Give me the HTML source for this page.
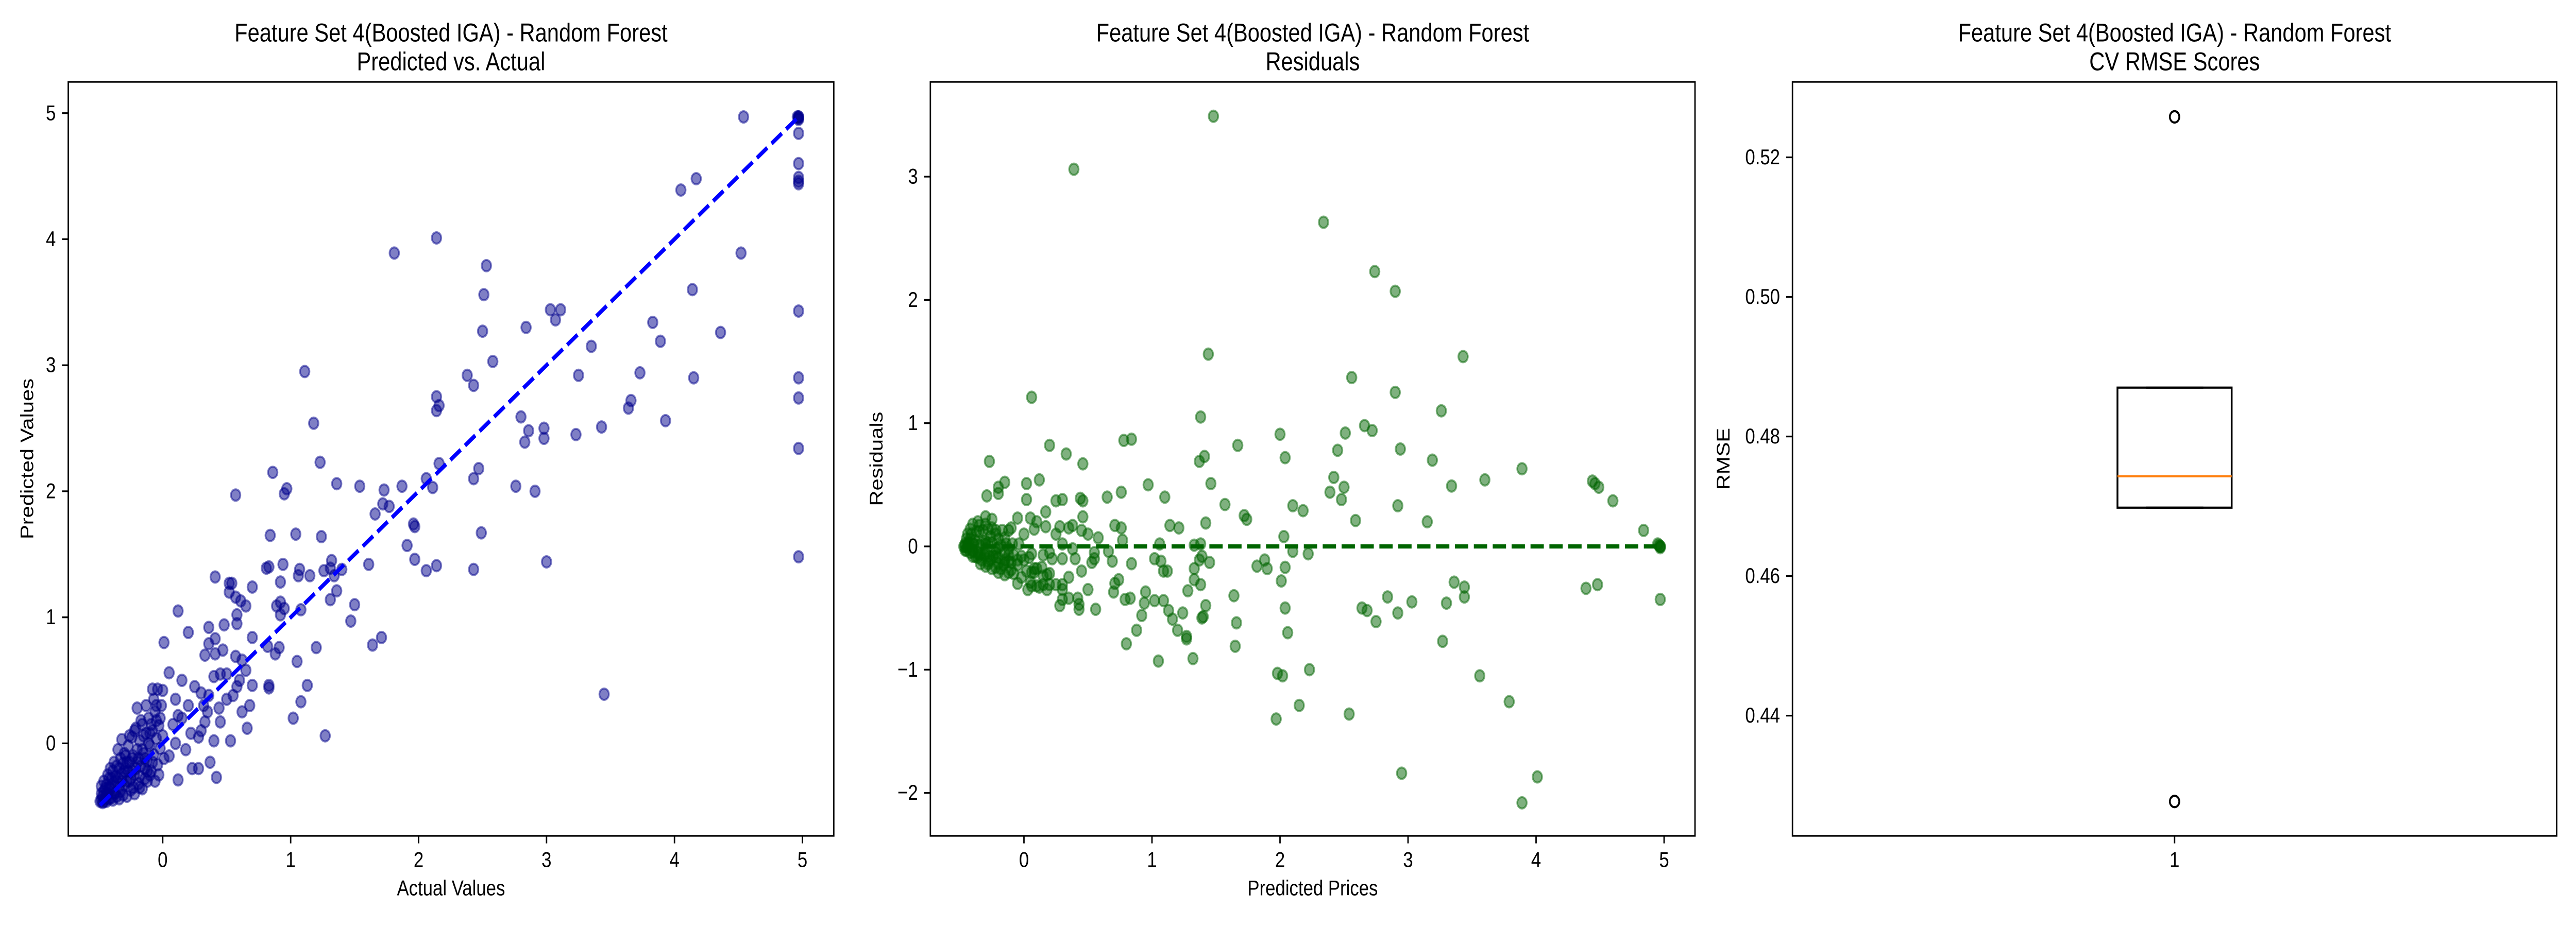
<!DOCTYPE html>
<html><head><meta charset="utf-8"><title>Feature Set 4 - Random Forest</title>
<style>html,body{margin:0;padding:0;background:#fff;overflow:hidden;width:100%;height:100%;}svg{display:block;width:100vw;height:100vh;font-family:"Liberation Sans","DejaVu Sans",sans-serif;}</style>
</head><body>
<svg id="fig" xmlns="http://www.w3.org/2000/svg" viewBox="0 0 6000 1800" preserveAspectRatio="none">
<rect width="6000" height="1800" fill="#fff"/>
</svg>
<script>
// ---- data: [actual, predicted]
const actualPredicted = [
[4.54,4.97],[4.97,4.97],[4.97,4.96],[4.96,4.97],[4.97,4.95],[4.97,4.97],[4.97,4.84],[4.97,4.60],[4.97,4.49],[4.97,4.46],[4.97,4.44],
[4.17,4.48],[4.05,4.39],[2.14,4.01],[1.81,3.89],[4.52,3.89],[2.53,3.79],[2.51,3.56],[4.14,3.60],[3.03,3.44],[3.11,3.44],[3.07,3.36],
[2.84,3.30],[4.97,3.43],[3.83,3.34],[2.50,3.27],[4.36,3.26],[3.89,3.19],[3.35,3.15],[2.58,3.03],[1.11,2.95],[2.38,2.92],[3.25,2.92],
[4.15,2.90],[4.97,2.90],[3.73,2.94],[2.43,2.84],[2.14,2.75],[2.16,2.68],[2.14,2.64],[4.97,2.74],[3.66,2.72],[3.64,2.66],[2.80,2.59],
[2.86,2.48],[2.98,2.50],[3.93,2.56],[3.43,2.51],[3.23,2.45],[2.83,2.39],[2.98,2.42],[1.18,2.54],[4.97,2.34],[1.23,2.23],[2.16,2.22],
[0.86,2.15],[2.47,2.18],[2.06,2.10],[2.43,2.10],[2.11,2.03],[1.36,2.06],[1.54,2.04],[1.87,2.04],[2.76,2.04],[2.91,2.00],[1.73,2.01],
[0.97,2.02],[0.57,1.97],[0.95,1.98],[1.72,1.90],[1.77,1.88],[1.66,1.82],[4.97,1.48],[1.96,1.74],[1.97,1.72],[1.04,1.66],[1.24,1.64],
[0.84,1.65],[2.49,1.67],[1.91,1.57],[1.97,1.46],[3.00,1.44],[2.06,1.37],[2.43,1.38],[2.14,1.41],[1.61,1.42],[1.32,1.45],[1.31,1.39],
[1.26,1.37],[0.83,1.40],[1.34,1.33],[1.40,1.38],[0.94,1.42],[1.07,1.38],[1.15,1.33],[0.41,1.32],[0.54,1.27],[0.70,1.24],[0.52,1.27],
[0.81,1.39],[0.92,1.28],[1.06,1.33],[1.36,1.21],[0.52,1.20],[1.50,1.10],[0.92,1.12],[0.89,1.09],[1.08,1.06],[0.61,1.13],[0.57,1.16],
[1.31,1.14],[1.47,0.97],[1.64,0.78],[1.20,0.76],[1.71,0.84],[1.05,0.65],[1.13,0.46],[1.08,0.33],[1.02,0.20],[1.27,0.06],[0.88,0.71],
[0.91,0.76],[0.92,1.02],[0.95,1.07],[0.82,0.77],[0.83,0.46],[0.83,0.44],[0.70,0.46],[0.58,1.02],[0.58,0.95],[0.12,1.05],[0.20,0.88],
[0.01,0.80],[0.36,0.92],[0.48,0.94],[0.41,0.83],[0.41,0.71],[0.36,0.79],[0.47,0.74],[0.57,0.69],[0.70,0.84],[0.62,0.66],[0.65,0.58],
[0.68,0.30],[0.53,0.02],[0.42,-0.27],[0.28,-0.20],[0.12,-0.29],[0.37,-0.15],[0.23,-0.20],[0.33,0.70],[0.33,0.17],[-0.08,0.43],[0.65,1.09],
[3.45,0.39],
[0.05,0.56],[0.10,0.35],[0.15,0.50],[0.20,0.30],[0.25,0.45],[0.30,0.40],[0.35,0.25],[0.40,0.53],[0.45,0.55],[0.50,0.35],[0.55,0.38],
[0.60,0.50],[0.62,0.25],[0.66,0.12],[0.45,0.17],[0.40,0.02],[0.50,0.55],[0.30,0.10],[0.22,0.08],[0.15,0.20],[0.08,0.15],[0.00,0.42],
[-0.05,0.30],[0.10,0.00],[0.05,-0.10],[0.18,-0.05],[0.28,0.05],[0.36,0.38],[0.44,0.28],[0.12,0.22],[0.32,0.30],[0.58,0.45],
[-0.48,-0.45],[-0.47,-0.42],[-0.46,-0.38],[-0.45,-0.44],[-0.44,-0.33],[-0.43,-0.40],[-0.42,-0.28],[-0.41,-0.36],[-0.40,-0.43],[-0.39,-0.22],
[-0.38,-0.31],[-0.37,-0.39],[-0.36,-0.18],[-0.35,-0.27],[-0.34,-0.35],[-0.33,-0.12],[-0.32,-0.24],[-0.31,-0.41],[-0.30,-0.08],[-0.29,-0.20],
[-0.28,-0.30],[-0.27,-0.02],[-0.26,-0.15],[-0.25,-0.37],[-0.24,0.05],[-0.23,-0.10],[-0.22,-0.25],[-0.21,0.12],[-0.20,-0.05],[-0.19,-0.32],
[-0.18,0.02],[-0.17,-0.18],[-0.16,0.15],[-0.15,-0.08],[-0.14,-0.28],[-0.13,0.08],[-0.12,-0.14],[-0.11,0.20],[-0.10,-0.02],[-0.09,-0.22],
[-0.08,0.10],[-0.07,-0.09],[-0.06,0.25],[-0.05,0.04],[-0.04,-0.17],[-0.03,0.14],[-0.02,-0.04],[-0.01,0.30],[0.00,0.06],[0.01,-0.12],
[-0.49,-0.46],[-0.48,-0.40],[-0.47,-0.47],[-0.46,-0.30],[-0.45,-0.36],[-0.44,-0.46],[-0.43,-0.25],[-0.42,-0.44],[-0.41,-0.20],[-0.40,-0.34],
[-0.39,-0.45],[-0.38,-0.15],[-0.37,-0.26],[-0.36,-0.42],[-0.35,-0.05],[-0.34,-0.20],[-0.33,-0.38],[-0.32,0.03],[-0.31,-0.16],[-0.30,-0.33],
[-0.29,-0.10],[-0.28,-0.42],[-0.27,-0.22],[-0.26,0.06],[-0.25,-0.28],[-0.24,-0.12],[-0.23,-0.35],[-0.22,0.10],[-0.21,-0.20],[-0.20,0.28],
[-0.19,-0.12],[-0.18,-0.26],[-0.17,0.18],[-0.16,-0.36],[-0.15,0.06],[-0.14,-0.20],[-0.13,0.30],[-0.12,-0.30],[-0.11,0.00],[-0.10,-0.25],
[-0.09,0.15],[-0.08,-0.15],[-0.07,0.35],[-0.06,-0.30],[-0.05,0.18],[-0.04,0.43],[-0.03,-0.25],[-0.02,0.20],[-0.48,-0.34],[-0.46,-0.46],
[-0.44,-0.40],[-0.42,-0.35],[-0.40,-0.28],[-0.38,-0.40],[-0.36,-0.30],[-0.34,-0.44],[-0.32,-0.30],[-0.30,-0.22],[-0.28,-0.15],[-0.26,-0.30],
[-0.24,-0.22],[-0.22,-0.40],[-0.20,-0.15],[-0.18,-0.35],[-0.16,-0.05],[-0.14,-0.12],[-0.12,-0.22],[-0.10,0.08]
];
const cvScores = [0.4277, 0.4698, 0.4743, 0.4870, 0.5258];
const ticks1 = [0,1,2,3,4,5];
const resTicks = [-2,-1,0,1,2,3];
const rmseTicks = [0.44,0.46,0.48,0.50,0.52];
const rmseTickLabels = ["0.44","0.46","0.48","0.50","0.52"];
const boxCategories = ["1"];
const titleLine1 = "Feature Set 4(Boosted IGA) - Random Forest";

const NS = "http://www.w3.org/2000/svg";
const svg = document.getElementById('fig');
function mk(tag, attrs, parent, text){
  const e = document.createElementNS(NS, tag);
  for (const k in attrs) e.setAttribute(k, attrs[k]);
  if (text !== undefined) e.textContent = text;
  (parent || svg).appendChild(e);
  return e;
}
function lin(d0,d1,r0,r1){ return v => r0 + (v-d0)/(d1-d0)*(r1-r0); }

const TOP = 159, BOT = 1623;
const FS = 41.7;
function axesFrame(g, L, R){
  const f = mk('rect', {x:L, y:TOP, width:R-L, height:BOT-TOP, fill:'none', stroke:'#000', 'stroke-width':3.3}, g);
  
  
}
function xTicks(g, vals, labels, sx){
  vals.forEach((v,i) => {
    const x = sx(v);
    const t = mk('line', {x1:x, x2:x, y1:BOT, y2:BOT+14.6, stroke:'#000', 'stroke-width':3.3}, g);
    
    
    const l = mk('text', {x:x, y:1670, 'font-size':FS, 'text-anchor':'middle', 'dominant-baseline':'central'}, g, labels[i]);
    
    
  });
}
function yTicks(g, L, vals, labels, sy){
  vals.forEach((v,i) => {
    const y = sy(v);
    const t = mk('line', {x1:L-14.6, x2:L, y1:y, y2:y, stroke:'#000', 'stroke-width':3.3}, g);
    
    
    const l = mk('text', {x:L-29, y:y, 'font-size':FS, 'text-anchor':'end', 'dominant-baseline':'central'}, g, labels[i]);
    
    
  });
}
function titles(g, cx, line2){
  const t1 = mk('text', {x:cx, y:63, 'font-size':50, 'text-anchor':'middle', 'dominant-baseline':'central'}, g, titleLine1);
  
  
  const t2 = mk('text', {x:cx, y:119, 'font-size':50, 'text-anchor':'middle', 'dominant-baseline':'central'}, g, line2);
  
  
}
function xLabel(g, cx, txt){
  const t = mk('text', {x:cx, y:1725, 'font-size':FS, 'text-anchor':'middle', 'dominant-baseline':'central'}, g, txt);
  
  
}
function yLabel(g, x, txt){
  const cy = (TOP+BOT)/2;
  const t = mk('text', {x:x, y:cy, 'font-size':FS, 'text-anchor':'middle', 'dominant-baseline':'central', transform:`rotate(-90 ${x} ${cy})`}, g, txt);
  
  
}

// ---------- Panel 1: Predicted vs Actual ----------
(function(){
  const L=159, R=1942;
  const g = mk('g', {});
  
  
  const sx = lin(0,5,379,1869), sy = lin(0,5,1443.4,219.7);
  titles(g, (L+R)/2, "Predicted vs. Actual");
  const pts = mk('g', {}, g);
  
  
  actualPredicted.forEach(p => {
    const c = mk('circle', {cx:sx(p[0]), cy:sy(p[1]), r:11, fill:'#00008b', 'fill-opacity':0.5, stroke:'#00008b', 'stroke-opacity':0.5, 'stroke-width':4}, pts);
    
    
  });
  const a = actualPredicted.map(p=>p[0]);
  const mn = Math.min(...a), mx = Math.max(...a);
  const ln = mk('line', {x1:sx(mn), y1:sy(mn), x2:sx(mx), y2:sy(mx), stroke:'#0000ff', 'stroke-width':8.3, 'stroke-dasharray':'31 13'}, g);
  
  
  axesFrame(g, L, R);
  xTicks(g, ticks1, ticks1.map(String), sx);
  yTicks(g, L, ticks1, ticks1.map(String), sy);
  xLabel(g, (L+R)/2, "Actual Values");
  yLabel(g, 64, "Predicted Values");
})();

// ---------- Panel 2: Residuals ----------
(function(){
  const L=2167, R=3948;
  const g = mk('g', {});
  
  
  const sx = lin(0,5,2385,3876), sy = lin(0,3,1061,343);
  titles(g, (L+R)/2, "Residuals");
  const pts = mk('g', {}, g);
  
  
  actualPredicted.forEach(p => {
    const c = mk('circle', {cx:sx(p[1]), cy:sy(p[0]-p[1]), r:11, fill:'#006400', 'fill-opacity':0.5, stroke:'#006400', 'stroke-opacity':0.5, 'stroke-width':4}, pts);
    
    
  });
  const pr = actualPredicted.map(p=>p[1]);
  const ln = mk('line', {x1:sx(Math.min(...pr)), y1:sy(0), x2:sx(Math.max(...pr)), y2:sy(0), stroke:'#006400', 'stroke-width':8.3, 'stroke-dasharray':'31 13'}, g);
  
  
  axesFrame(g, L, R);
  xTicks(g, ticks1, ticks1.map(String), sx);
  yTicks(g, L, resTicks, resTicks.map(v => v<0 ? '\u2212'+Math.abs(v) : String(v)), sy);
  xLabel(g, (L+R)/2, "Predicted Prices");
  yLabel(g, 2042, "Residuals");
})();

// ---------- Panel 3: CV RMSE boxplot ----------
(function(){
  const L=4175, R=5955;
  const g = mk('g', {});
  
  
  const sy = lin(0.44,0.52,1389.6,305.5);
  const sx = lin(0.5,1.5,L,R);
  titles(g, (L+R)/2, "CV RMSE Scores");
  const s = cvScores.slice().sort((a,b)=>a-b);
  function q(p){ const i=(s.length-1)*p, lo=Math.floor(i), hi=Math.ceil(i); return s[lo]+(s[hi]-s[lo])*(i-lo); }
  const q1=q(0.25), med=q(0.5), q3=q(0.75), iqr=q3-q1;
  const inl = s.filter(v => v>=q1-1.5*iqr && v<=q3+1.5*iqr);
  const wlo = Math.min(...inl), whi = Math.max(...inl);
  const cx = sx(1), hw = 133, cw = 67;
  const wl = mk('line', {x1:cx, x2:cx, y1:sy(q1), y2:sy(wlo), stroke:'#000', 'stroke-width':4.2}, g);
  
  
  const wh = mk('line', {x1:cx, x2:cx, y1:sy(q3), y2:sy(whi), stroke:'#000', 'stroke-width':4.2}, g);
  
  
  [wlo, whi].forEach(v => {
    const c = mk('line', {x1:cx-cw, x2:cx+cw, y1:sy(v), y2:sy(v), stroke:'#000', 'stroke-width':4.2}, g);
    
    
  });
  const box = mk('rect', {x:cx-hw, y:sy(q3), width:2*hw, height:sy(q1)-sy(q3), fill:'none', stroke:'#000', 'stroke-width':4.2}, g);
  
  
  const m = mk('line', {x1:cx-hw, x2:cx+hw, y1:sy(med), y2:sy(med), stroke:'#ff7f0e', 'stroke-width':4.2}, g);
  
  
  s.filter(v => v<wlo || v>whi).forEach(v => {
    const o = mk('circle', {cx:cx, cy:sy(v), r:11, fill:'none', stroke:'#000', 'stroke-width':4.2}, g);
    
    
  });
  axesFrame(g, L, R);
  xTicks(g, [1], boxCategories, sx);
  yTicks(g, L, rmseTicks, rmseTickLabels, sy);
  yLabel(g, 4015, "RMSE");
})();
</script>
</body></html>
